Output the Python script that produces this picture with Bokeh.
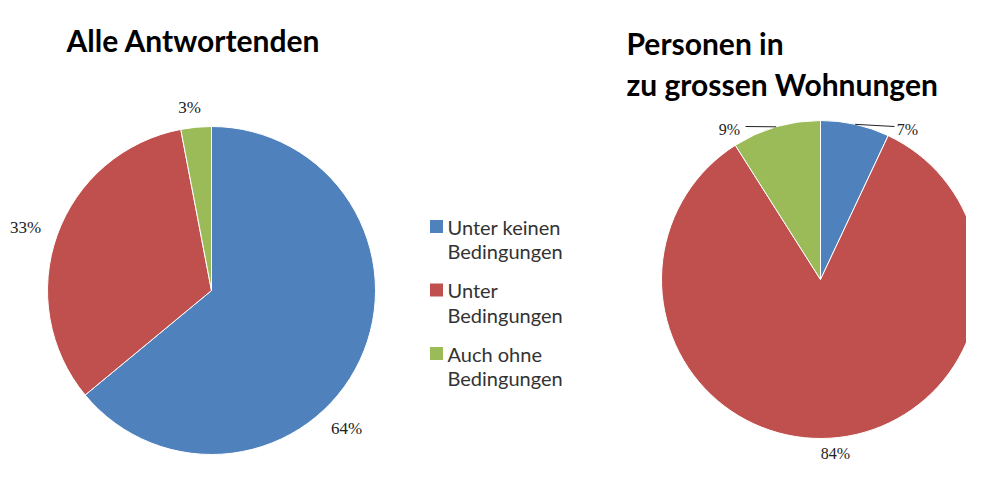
import math
from bokeh.plotting import figure
from bokeh.models import Range1d
from bokeh.core.properties import value
from bokeh.embed import file_html
from bokeh.resources import INLINE

# ---- data ----
categories = ["Unter keinen Bedingungen", "Unter Bedingungen", "Auch ohne Bedingungen"]
legend_lines = [["Unter keinen", "Bedingungen"], ["Unter", "Bedingungen"], ["Auch ohne", "Bedingungen"]]
alle_values = [64, 33, 3]
wohnungen_values = [7, 84, 9]
titles_left = ["Alle Antwortenden"]
titles_right = ["Personen in", "zu grossen Wohnungen"]

colors = ["#4F81BD", "#C0504D", "#9BBB59"]

# ---- layout (screen px; data y = -screen y) ----
W, H = 966, 462
p = figure(width=W, height=H, output_backend="svg", toolbar_location=None,
           x_range=Range1d(0, W), y_range=Range1d(-H, 0),
           min_border=0)
p.axis.visible = False
p.grid.visible = False
p.outline_line_color = None
p.background_fill_color = "white"
p.border_fill_color = "white"


def wedges(vals):
    total = sum(vals)
    starts, ends, mids = [], [], []
    a = math.pi / 2
    for v in vals:
        s = a
        e = a - v / total * 2 * math.pi
        starts.append(s)
        ends.append(e)
        mids.append((s + e) / 2)
        a = e
    return starts, ends, mids


LBL_FONT = value("Liberation Serif")
SANS = value("Lato")

# left pie
cx1, cy1, r1 = 211, -290, 164
s, e, m = wedges(alle_values)
p.wedge(x=[cx1] * 3, y=[cy1] * 3, radius=r1, start_angle=s, end_angle=e,
        direction="clock", fill_color=colors, line_color="white", line_width=1)
left_label_pos = [(346, -428), (25, -227), (189, -107)]
p.text(x=[q[0] for q in left_label_pos], y=[q[1] for q in left_label_pos],
       text=[f"{v}%" for v in alle_values], text_font=LBL_FONT, text_font_size="17px",
       text_align="center", text_baseline="middle", text_color="#222222")

# right pie
cx2, cy2, r2 = 820, -279, 159
s2, e2, m2 = wedges(wohnungen_values)
p.wedge(x=[cx2] * 3, y=[cy2] * 3, radius=r2, start_angle=s2, end_angle=e2,
        direction="clock", fill_color=colors, line_color="white", line_width=1)
right_label_pos = [(907, -129), (835, -453), (729, -129)]
p.text(x=[q[0] for q in right_label_pos], y=[q[1] for q in right_label_pos],
       text=[f"{v}%" for v in wohnungen_values], text_font=LBL_FONT, text_font_size="16px",
       text_align="center", text_baseline="alphabetic", text_color="#222222")
# leader lines for small slices (blue, green)
for idx, lx in ((0, 894), (2, 745)):
    ex = cx2 + r2 * math.cos(m2[idx])
    ey = cy2 + r2 * math.sin(m2[idx])
    p.line(x=[lx, ex], y=[-126, ey], line_color="#222222", line_width=1)

# titles
p.text(x=[66], y=[-39], text=titles_left, text_font=SANS, text_font_style="bold",
       text_font_size="30px", text_baseline="alphabetic", text_color="black")
p.text(x=[626, 626], y=[-42, -83], text=titles_right, text_font=SANS, text_font_style="bold",
       text_font_size="30px", text_baseline="alphabetic", text_color="black")

# legend
row_y = [-226, -289.5, -353]
p.rect(x=[436] * 3, y=row_y, width=13, height=13, fill_color=colors, line_color=None)
lx, ly, lt = [], [], []
for i, lines in enumerate(legend_lines):
    for j, ln in enumerate(lines):
        lx.append(447)
        ly.append(row_y[i] - 24.5 * j)
        lt.append(ln)
p.text(x=lx, y=ly, text=lt, text_font=SANS, text_font_size="20px",
       text_baseline="middle", text_color="#333333")

open("out.html", "w").write(file_html(p, INLINE))
